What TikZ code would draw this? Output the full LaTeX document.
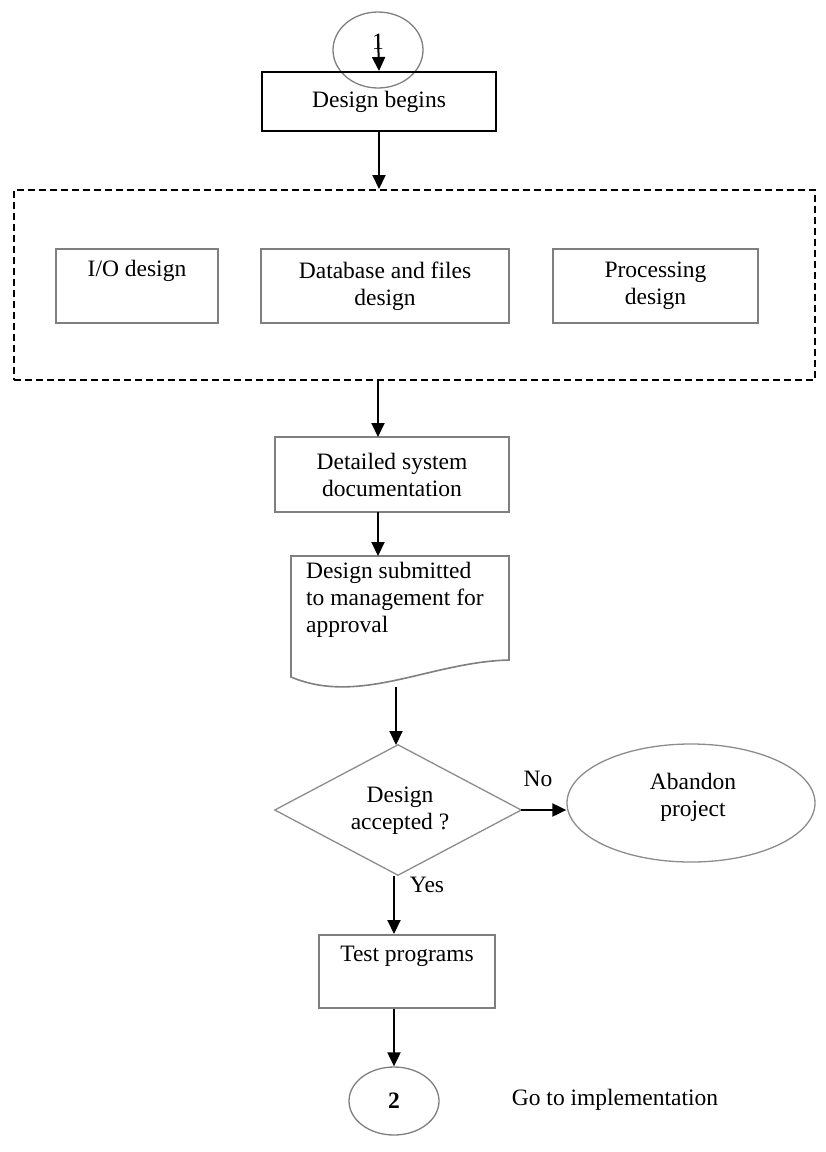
\documentclass[tikz,border=0pt]{standalone}
\usepackage{fontspec}
\setmainfont{Liberation Serif}
\usetikzlibrary{arrows.meta,shapes.geometric}
\definecolor{edgegray}{HTML}{7F7F7F}
\definecolor{lightedge}{HTML}{8C8C8C}
\begin{document}
\begin{tikzpicture}[x=1pt,y=-1pt,
  font=\fontsize{23.5}{27}\selectfont,
  arr/.style={line width=2pt,-{Triangle[length=14pt,width=13pt]}},
  plainline/.style={line width=2pt},
  boxgray/.style={draw=edgegray,line width=2pt,rectangle,inner sep=0pt},
  boxblack/.style={draw=black,line width=2pt,rectangle,inner sep=0pt},
  oval/.style={draw=lightedge,line width=1.3pt,ellipse,inner sep=0pt},
  txt/.style={inner sep=0pt,align=center}
]
\path[use as bounding box] (0,0) rectangle (826,1152);

% start connector
\node[draw=edgegray,line width=1.3pt,ellipse,minimum width=90pt,minimum height=76pt] (c1) at (378,50) {};
\node[txt] (n1) at (378,42) {1};
\node[boxblack,minimum width=234pt,minimum height=59pt] (begin) at (379,101.5) {Design begins};

% design activities group
\node[draw=black,line width=2pt,dash pattern=on 7pt off 4pt,rectangle,minimum width=801pt,minimum height=190pt,inner sep=0pt] (group) at (414,285) {};
\node[boxgray,minimum width=162pt,minimum height=74pt] (io) at (137,286) {};
\node[txt,anchor=north] (iot) at ([yshift=-12pt]io.north) {I/O design};
\node[boxgray,minimum width=248pt,minimum height=74pt,txt] (db) at (385,286) {Database and files\\design};
\node[boxgray,minimum width=205pt,minimum height=74pt,txt] (proc) at (655.5,286) {Processing\\design};

% documentation
\node[boxgray,minimum width=234pt,minimum height=75pt,txt] (doc) at (392,474.5) {Detailed system\\documentation};

% document shape for management approval
\coordinate (subtop) at (378,556);
\draw[draw=edgegray,line width=1.6pt] (291,556) -- (509,556) -- (509,660)
  .. controls (430,662) and (360,706) .. (291,677) -- cycle;
\node[inner sep=0pt,anchor=north west,align=left] (sub) at (306,562) {Design submitted\\to management for\\approval};
\coordinate (subbot) at (396,687);

% decision
\node[inner sep=0pt,minimum width=246pt,minimum height=130pt] (dec) at (398,810) {};
\draw[draw=lightedge,line width=1.3pt] (dec.north) -- (dec.east) -- (dec.south) -- (dec.west) -- cycle;
\node[txt] (dect) at (400,811) {Design\\accepted ?};

\node[oval,minimum width=248pt,minimum height=118pt] (aband) at (691,803) {};
\node[txt] (abandt) at (693,797) {Abandon\\project};

\node[boxgray,minimum width=176pt,minimum height=73pt] (test) at (407,971.5) {};
\node[txt,anchor=north] (testt) at ([yshift=-12pt]test.north) {Test programs};

\node[draw=edgegray,line width=1.3pt,ellipse,minimum width=90pt,minimum height=68pt,inner sep=0pt] (c2) at (394,1101) {\textbf{2}};
\node[txt] (goto) at (615,1100) {Go to implementation};

% labels on the decision branches
\node[txt] (nolab) at (538,779) {No};
\node[txt] (yeslab) at (427,885) {Yes};

% connectors
\draw[arr] (n1.north) -- (begin.north);
\draw[arr] (begin.south) -- (group.north -| begin.south);
\draw[arr] (378,380) -- (378,437);
\draw[arr] (378,512) -- (subtop);
\draw[arr] (subbot) -- (396,745);
\draw[arr] (dec.east) -- (dec.east -| aband.west);
\draw[plainline] (394,876) -- (394,900);
\draw[arr] (394,900) -- (test.north -| 394,0);
\draw[arr] (test.south -| c2.north) -- (c2.north);
\end{tikzpicture}
\end{document}
